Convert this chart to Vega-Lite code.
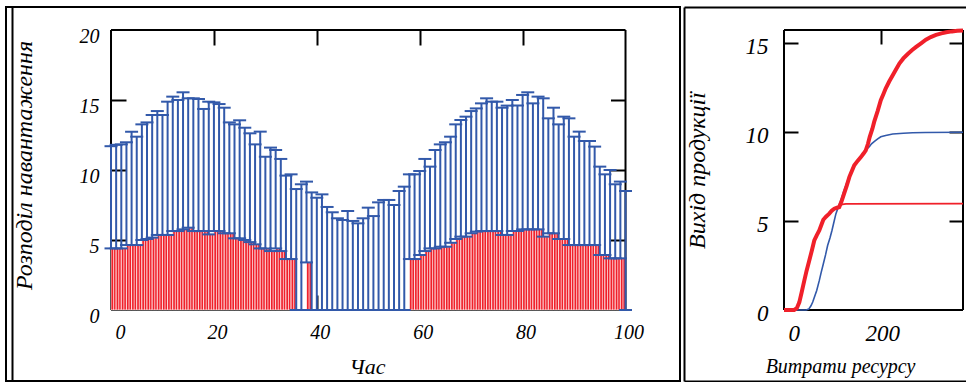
{
  "$schema": "https://vega.github.io/schema/vega-lite/v6.json",
  "padding": {"left": 5, "top": 6, "right": 0, "bottom": 0},
  "background": "white",
  "spacing": 4,
  "bounds": "flush",
  "datasets": {
    "load": [
      {"h":0,"lo":4.4,"hi":11.7},{"h":1,"lo":4.4,"hi":11.8},{"h":2,"lo":4.4,"hi":11.83},{"h":3,"lo":4.64,"hi":11.98},
      {"h":4,"lo":4.64,"hi":12.74},{"h":5,"lo":4.64,"hi":12.38},{"h":6,"lo":5.0,"hi":13.26},{"h":7,"lo":5.07,"hi":13.4},
      {"h":8,"lo":5.17,"hi":13.93},{"h":9,"lo":5.36,"hi":14.21},{"h":10,"lo":5.36,"hi":13.93},{"h":11,"lo":5.36,"hi":14.88},
      {"h":12,"lo":5.64,"hi":15.24},{"h":13,"lo":5.64,"hi":15.0},{"h":14,"lo":5.76,"hi":15.55},{"h":15,"lo":5.88,"hi":15.12},
      {"h":16,"lo":5.64,"hi":15.12},{"h":17,"lo":5.64,"hi":15.07},{"h":18,"lo":5.64,"hi":14.36},{"h":19,"lo":5.4,"hi":14.88},
      {"h":20,"lo":5.64,"hi":14.83},{"h":21,"lo":5.64,"hi":14.71},{"h":22,"lo":5.48,"hi":14.45},{"h":23,"lo":5.48,"hi":13.4},
      {"h":24,"lo":5.12,"hi":13.26},{"h":25,"lo":5.12,"hi":13.55},{"h":26,"lo":5.0,"hi":13.02},{"h":27,"lo":4.85,"hi":12.62},
      {"h":28,"lo":4.69,"hi":11.83},{"h":29,"lo":4.4,"hi":12.74},{"h":30,"lo":4.4,"hi":10.95},{"h":31,"lo":4.21,"hi":11.6},
      {"h":32,"lo":4.4,"hi":11.43},{"h":33,"lo":4.21,"hi":10.79},{"h":34,"lo":3.64,"hi":9.6},{"h":35,"lo":3.64,"hi":9.69},
      {"h":36,"lo":0,"hi":8.64},{"h":37,"lo":0,"hi":8.98},{"h":38,"lo":3.4,"hi":9.17},{"h":39,"lo":0,"hi":8.4},
      {"h":40,"lo":0,"hi":8.02},{"h":41,"lo":0,"hi":8.26},{"h":42,"lo":0,"hi":7.36},{"h":43,"lo":0,"hi":6.98},
      {"h":44,"lo":0,"hi":6.55},{"h":45,"lo":0,"hi":6.43},{"h":46,"lo":0,"hi":7.07},{"h":47,"lo":0,"hi":6.36},
      {"h":48,"lo":0,"hi":6.19},{"h":49,"lo":0,"hi":6.55},{"h":50,"lo":0,"hi":7.31},{"h":51,"lo":0,"hi":6.71},
      {"h":52,"lo":0,"hi":7.69},{"h":53,"lo":0,"hi":7.86},{"h":54,"lo":0,"hi":7.86},{"h":55,"lo":0,"hi":7.5},
      {"h":56,"lo":0,"hi":8.5},{"h":57,"lo":0,"hi":8.81},{"h":58,"lo":3.64,"hi":9.69},{"h":59,"lo":3.64,"hi":9.69},
      {"h":60,"lo":3.93,"hi":9.93},{"h":61,"lo":4.21,"hi":10.79},{"h":62,"lo":4.4,"hi":10.24},{"h":63,"lo":4.4,"hi":11.43},
      {"h":64,"lo":4.52,"hi":11.83},{"h":65,"lo":4.52,"hi":11.98},{"h":66,"lo":4.8,"hi":12.38},{"h":67,"lo":5.07,"hi":13.26},
      {"h":68,"lo":5.24,"hi":13.57},{"h":69,"lo":5.24,"hi":13.81},{"h":70,"lo":5.48,"hi":14.21},{"h":71,"lo":5.6,"hi":14.4},
      {"h":72,"lo":5.64,"hi":14.76},{"h":73,"lo":5.64,"hi":15.12},{"h":74,"lo":5.64,"hi":14.88},{"h":75,"lo":5.64,"hi":14.88},
      {"h":76,"lo":5.36,"hi":14.45},{"h":77,"lo":5.36,"hi":14.6},{"h":78,"lo":5.64,"hi":15.0},{"h":79,"lo":5.64,"hi":14.6},
      {"h":80,"lo":5.76,"hi":15.36},{"h":81,"lo":5.76,"hi":15.55},{"h":82,"lo":5.76,"hi":14.76},{"h":83,"lo":5.76,"hi":15.24},
      {"h":84,"lo":5.24,"hi":15.12},{"h":85,"lo":5.48,"hi":13.69},{"h":86,"lo":5.48,"hi":14.45},{"h":87,"lo":5.07,"hi":13.26},
      {"h":88,"lo":5.07,"hi":13.81},{"h":89,"lo":4.64,"hi":13.69},{"h":90,"lo":4.64,"hi":12.38},{"h":91,"lo":4.64,"hi":12.74},
      {"h":92,"lo":4.64,"hi":12.07},{"h":93,"lo":4.64,"hi":12.07},{"h":94,"lo":4.64,"hi":11.67},{"h":95,"lo":3.93,"hi":10.24},
      {"h":96,"lo":3.93,"hi":9.69},{"h":97,"lo":3.69,"hi":10.0},{"h":98,"lo":3.69,"hi":8.98},{"h":99,"lo":3.69,"hi":9.17},
      {"h":100,"lo":0,"hi":8.5}
    ],
    "redThick": [
      {"r":-20,"v":0},{"r":3,"v":0},{"r":9,"v":0.1},{"r":14.6,"v":0.43},{"r":20,"v":1.0},{"r":25.9,"v":1.65},{"r":31,"v":2.2},
      {"r":37.2,"v":2.78},{"r":43,"v":3.35},{"r":48.5,"v":3.91},{"r":54,"v":4.2},{"r":59.8,"v":4.47},{"r":64,"v":4.75},
      {"r":68.9,"v":5.08},{"r":75,"v":5.25},{"r":82.4,"v":5.42},{"r":88,"v":5.58},{"r":93.8,"v":5.7},{"r":100,"v":5.75},
      {"r":105,"v":5.79},{"r":110,"v":6.1},{"r":116,"v":6.55},{"r":122,"v":7.0},{"r":128,"v":7.49},{"r":134,"v":7.85},
      {"r":139,"v":8.14},{"r":147,"v":8.4},{"r":154,"v":8.6},{"r":160,"v":8.8},{"r":165,"v":8.98},{"r":170,"v":9.35},
      {"r":174,"v":9.74},{"r":180,"v":10.2},{"r":184,"v":10.58},{"r":192,"v":11.2},{"r":199,"v":11.8},{"r":205,"v":12.15},
      {"r":210,"v":12.46},{"r":218,"v":12.85},{"r":226,"v":13.2},{"r":234,"v":13.55},{"r":241,"v":13.86},{"r":250,"v":14.15},
      {"r":260,"v":14.4},{"r":270,"v":14.62},{"r":279,"v":14.8},{"r":290,"v":15.0},{"r":301,"v":15.2},{"r":312,"v":15.35},
      {"r":324,"v":15.47},{"r":336,"v":15.56},{"r":347,"v":15.62},{"r":360,"v":15.67},{"r":372,"v":15.7},{"r":385,"v":15.72}
    ],
    "redThin": [
      {"r":-20,"v":0},{"r":3,"v":0},{"r":9,"v":0.1},{"r":14.6,"v":0.43},{"r":20,"v":1.0},{"r":25.9,"v":1.65},{"r":31,"v":2.2},
      {"r":37.2,"v":2.78},{"r":43,"v":3.35},{"r":48.5,"v":3.91},{"r":54,"v":4.2},{"r":59.8,"v":4.47},{"r":64,"v":4.75},
      {"r":68.9,"v":5.08},{"r":75,"v":5.25},{"r":82.4,"v":5.42},{"r":88,"v":5.58},{"r":93.8,"v":5.7},{"r":100,"v":5.78},
      {"r":106,"v":5.88},{"r":112,"v":5.94},{"r":120,"v":5.97},{"r":385,"v":5.98}
    ],
    "blueLine": [
      {"r":-20,"v":0},{"r":30,"v":0},{"r":36,"v":0.05},{"r":41,"v":0.24},{"r":45,"v":0.45},{"r":48.5,"v":0.71},{"r":54,"v":1.1},
      {"r":59.8,"v":1.65},{"r":64,"v":2.1},{"r":68.9,"v":2.59},{"r":74,"v":3.1},{"r":78.7,"v":3.63},{"r":84,"v":4.05},
      {"r":88.5,"v":4.47},{"r":93,"v":4.95},{"r":97.5,"v":5.42},{"r":103,"v":5.8},{"r":108.8,"v":6.17},{"r":114,"v":6.6},
      {"r":120,"v":7.02},{"r":126,"v":7.4},{"r":131,"v":7.77},{"r":137,"v":8.0},{"r":143,"v":8.24},{"r":150,"v":8.5},
      {"r":158,"v":8.8},{"r":165,"v":9.0},{"r":173,"v":9.18},{"r":178,"v":9.35},{"r":184,"v":9.47},{"r":192,"v":9.62},
      {"r":199,"v":9.74},{"r":210,"v":9.82},{"r":226,"v":9.9},{"r":250,"v":9.94},{"r":271,"v":9.97},{"r":300,"v":9.98},
      {"r":385,"v":10.0}
    ]
  },
  "hconcat": [
    {
      "width": 674,
      "height": 374,
      "view": {"stroke": "black", "strokeWidth": 2},
      "data": {"name": "load"},
      "layer": [
        {
          "data": {"values": [{}]},
          "mark": {"type": "rule", "color": "black", "strokeWidth": 2},
          "encoding": {
            "x": {"datum": 0, "type": "quantitative", "scale": {"domain": [-20.41, 110.59], "nice": false, "zero": false, "padding": 0}, "axis": null},
            "y": {"datum": 0, "type": "quantitative", "scale": {"domain": [-5.0714, 21.6429], "nice": false, "zero": false, "padding": 0}, "axis": null},
            "y2": {"datum": 20}
          }
        },
        {
          "data": {"values": [{}]},
          "mark": {"type": "rule", "color": "black", "strokeWidth": 2},
          "encoding": {
            "x": {"datum": 100, "type": "quantitative", "scale": {"domain": [-20.41, 110.59], "nice": false, "zero": false, "padding": 0}, "axis": null},
            "y": {"datum": 0, "type": "quantitative", "scale": {"domain": [-5.0714, 21.6429], "nice": false, "zero": false, "padding": 0}, "axis": null},
            "y2": {"datum": 20}
          }
        },
        {
          "data": {"values": [{}]},
          "mark": {"type": "rule", "color": "black", "strokeWidth": 2},
          "encoding": {
            "x": {"datum": 0, "type": "quantitative", "scale": {"domain": [-20.41, 110.59], "nice": false, "zero": false, "padding": 0}, "axis": null},
            "x2": {"datum": 100},
            "y": {"datum": 0, "type": "quantitative", "scale": {"domain": [-5.0714, 21.6429], "nice": false, "zero": false, "padding": 0}, "axis": null}
          }
        },
        {
          "data": {"values": [{}]},
          "mark": {"type": "rule", "color": "black", "strokeWidth": 2},
          "encoding": {
            "x": {"datum": 0, "type": "quantitative", "scale": {"domain": [-20.41, 110.59], "nice": false, "zero": false, "padding": 0}, "axis": null},
            "x2": {"datum": 100},
            "y": {"datum": 20, "type": "quantitative", "scale": {"domain": [-5.0714, 21.6429], "nice": false, "zero": false, "padding": 0}, "axis": null}
          }
        },
        {
          "mark": {"type": "bar", "size": 5.145, "xOffset": 2.5725, "color": "#f0202a", "stroke": "white", "strokeWidth": 0.7},
          "encoding": {
            "x": {"field": "h", "type": "quantitative", "scale": {"domain": [-20.41, 110.59], "nice": false, "zero": false, "padding": 0},
                  "axis": {"orient": "bottom", "offset": -71, "values": [20, 40, 60, 80, 100], "labels": true, "labelBaseline": "alphabetic", "labelPadding": 28, "labelOffset": 3,
                           "title": "Час", "titleX": 361, "titleY": 63, "titleAlign": "center", "titleBaseline": "alphabetic"}},
            "y": {"field": "lo", "type": "quantitative", "scale": {"domain": [-5.0714, 21.6429], "nice": false, "zero": false, "padding": 0},
                  "axis": {"orient": "left", "offset": -105, "values": [0, 5, 10, 15, 20], "labels": true, "labelBaseline": "alphabetic", "labelPadding": 12, "labelOffset": 12,
                           "title": "Розподіл навантаження", "titleFontSize": 24, "titleX": -87, "titleY": 158, "titleAngle": 270, "titleAlign": "center", "titleBaseline": "middle"}}
          }
        },
        {
          "mark": {"type": "rule", "xOffset": 2.5725, "color": "white", "strokeWidth": 0.7},
          "encoding": {
            "x": {"field": "h", "type": "quantitative", "scale": {"domain": [-20.41, 110.59], "nice": false, "zero": false, "padding": 0},
                  "axis": {"orient": "top", "offset": -303, "values": [20, 40, 60, 80], "ticks": true, "tickSize": 15, "title": null}},
            "y": {"field": "lo", "type": "quantitative", "scale": {"domain": [-5.0714, 21.6429], "nice": false, "zero": false, "padding": 0},
                  "axis": {"orient": "right", "offset": -569, "values": [5, 10, 15], "ticks": true, "tickSize": 15, "title": null}},
            "y2": {"datum": 0}
          }
        },
        {
          "mark": {"type": "rule", "color": "#3259aa", "strokeWidth": 2},
          "encoding": {
            "x": {"field": "h", "type": "quantitative", "scale": {"domain": [-20.41, 110.59], "nice": false, "zero": false, "padding": 0},
                  "axis": {"orient": "bottom", "offset": -351, "values": [20, 40, 60, 80], "ticks": true, "tickSize": 15, "title": null}},
            "y": {"field": "lo", "type": "quantitative", "scale": {"domain": [-5.0714, 21.6429], "nice": false, "zero": false, "padding": 0},
                  "axis": {"orient": "left", "offset": -619.5, "values": [5, 10, 15], "ticks": true, "tickSize": 15, "title": null}},
            "y2": {"field": "hi"}
          }
        },
        {
          "mark": {"type": "tick", "orient": "horizontal", "size": 13, "thickness": 2, "color": "#3259aa", "opacity": 1},
          "encoding": {
            "x": {"field": "h", "type": "quantitative", "scale": {"domain": [-20.41, 110.59], "nice": false, "zero": false, "padding": 0},
                  "axis": {"orient": "bottom", "offset": -71, "values": [0], "labels": true, "labelBaseline": "alphabetic", "labelPadding": 28, "labelOffset": 9, "title": null}},
            "y": {"field": "hi", "type": "quantitative", "scale": {"domain": [-5.0714, 21.6429], "nice": false, "zero": false, "padding": 0},
                  "axis": {"orient": "left", "offset": -6, "domain": true, "title": null}}
          }
        },
        {
          "mark": {"type": "tick", "orient": "horizontal", "size": 13, "thickness": 2, "color": "#3259aa", "opacity": 1},
          "encoding": {
            "x": {"field": "h", "type": "quantitative", "scale": {"domain": [-20.41, 110.59], "nice": false, "zero": false, "padding": 0}, "axis": null},
            "y": {"field": "lo", "type": "quantitative", "scale": {"domain": [-5.0714, 21.6429], "nice": false, "zero": false, "padding": 0}, "axis": null}
          }
        }
      ],
      "resolve": {"axis": {"x": "independent", "y": "independent"}}
    },
    {
      "width": 282,
      "height": 374,
      "view": {"stroke": null},
      "layer": [
        {
          "data": {"values": [{}]},
          "mark": {"type": "rule", "color": "black", "strokeWidth": 2},
          "encoding": {
            "x": {"datum": -20, "type": "quantitative", "scale": {"domain": [-246.26, 391.78], "nice": false, "zero": false, "padding": 0},
                  "axis": {"orient": "bottom", "offset": 0, "domain": true, "title": null}},
            "y": {"datum": 0, "type": "quantitative", "scale": {"domain": [-3.993, 17.042], "nice": false, "zero": false, "padding": 0},
                  "axis": {"orient": "left", "offset": 0, "domain": true, "title": null}},
            "y2": {"datum": 15.75}
          }
        },
        {
          "data": {"values": [{}]},
          "mark": {"type": "rule", "color": "black", "strokeWidth": 2},
          "encoding": {
            "x": {"datum": 385, "type": "quantitative", "scale": {"domain": [-246.26, 391.78], "nice": false, "zero": false, "padding": 0},
                  "axis": {"orient": "top", "offset": 0, "domain": true, "title": null}},
            "y": {"datum": 0, "type": "quantitative", "scale": {"domain": [-3.993, 17.042], "nice": false, "zero": false, "padding": 0},
                  "axis": {"orient": "left", "offset": -279, "values": [5, 10, 15], "ticks": true, "tickSize": 14, "title": null}},
            "y2": {"datum": 15.75}
          }
        },
        {
          "data": {"values": [{}]},
          "mark": {"type": "rule", "color": "black", "strokeWidth": 2},
          "encoding": {
            "x": {"datum": -20, "type": "quantitative", "scale": {"domain": [-246.26, 391.78], "nice": false, "zero": false, "padding": 0}, "axis": null},
            "x2": {"datum": 385},
            "y": {"datum": 0, "type": "quantitative", "scale": {"domain": [-3.993, 17.042], "nice": false, "zero": false, "padding": 0}, "axis": null}
          }
        },
        {
          "data": {"values": [{}]},
          "mark": {"type": "rule", "color": "black", "strokeWidth": 2},
          "encoding": {
            "x": {"datum": -20, "type": "quantitative", "scale": {"domain": [-246.26, 391.78], "nice": false, "zero": false, "padding": 0}, "axis": null},
            "x2": {"datum": 385},
            "y": {"datum": 15.75, "type": "quantitative", "scale": {"domain": [-3.993, 17.042], "nice": false, "zero": false, "padding": 0}, "axis": null}
          }
        },
        {
          "data": {"name": "redThin"},
          "mark": {"type": "line", "color": "#f0202a", "strokeWidth": 1.7},
          "encoding": {
            "x": {"field": "r", "type": "quantitative", "scale": {"domain": [-246.26, 391.78], "nice": false, "zero": false, "padding": 0},
                  "axis": {"orient": "bottom", "offset": -71, "values": [0, 200], "labels": true, "labelFontSize": 23, "labelBaseline": "alphabetic", "labelPadding": 30, "labelOffset": 1,
                           "title": "Витрати ресурсу", "titleX": 156, "titleY": 62, "titleAlign": "center", "titleBaseline": "alphabetic", "titleFontSize": 20}},
            "y": {"field": "v", "type": "quantitative", "scale": {"domain": [-3.993, 17.042], "nice": false, "zero": false, "padding": 0},
                  "axis": {"orient": "left", "offset": -100, "values": [0, 5, 10, 15], "labels": true, "labelFontSize": 23, "labelBaseline": "alphabetic", "labelPadding": 16, "labelOffset": 10,
                           "title": "Вихід продукції", "titleFontSize": 24, "titleX": -86.5, "titleY": 163, "titleAngle": 270, "titleAlign": "center", "titleBaseline": "middle"}}
          }
        },
        {
          "data": {"name": "blueLine"},
          "mark": {"type": "line", "color": "#3259aa", "strokeWidth": 1.6},
          "encoding": {
            "x": {"field": "r", "type": "quantitative", "scale": {"domain": [-246.26, 391.78], "nice": false, "zero": false, "padding": 0},
                  "axis": {"orient": "bottom", "offset": -351, "values": [200], "ticks": true, "tickSize": 14, "title": null}},
            "y": {"field": "v", "type": "quantitative", "scale": {"domain": [-3.993, 17.042], "nice": false, "zero": false, "padding": 0},
                  "axis": {"orient": "right", "offset": -182, "values": [5, 10, 15], "ticks": true, "tickSize": 14, "title": null}}
          }
        },
        {
          "data": {"name": "redThick"},
          "mark": {"type": "line", "color": "#f0202a", "strokeWidth": 4},
          "encoding": {
            "x": {"field": "r", "type": "quantitative", "scale": {"domain": [-246.26, 391.78], "nice": false, "zero": false, "padding": 0}, "axis": null},
            "y": {"field": "v", "type": "quantitative", "scale": {"domain": [-3.993, 17.042], "nice": false, "zero": false, "padding": 0}, "axis": null}
          }
        }
      ],
      "resolve": {"axis": {"x": "independent", "y": "independent"}}
    }
  ],
  "config": {
    "axis": {
      "grid": false,
      "domain": false,
      "ticks": false,
      "labels": false,
      "labelFont": "Liberation Serif",
      "labelFontSize": 20,
      "labelFontStyle": "italic",
      "labelColor": "black",
      "labelFlush": false,
      "labelOverlap": false,
      "titleFont": "Liberation Serif",
      "titleFontSize": 22,
      "titleFontStyle": "italic",
      "titleFontWeight": "normal",
      "titleColor": "black",
      "domainColor": "black",
      "domainWidth": 2,
      "tickColor": "black",
      "tickWidth": 2
    }
  }
}
